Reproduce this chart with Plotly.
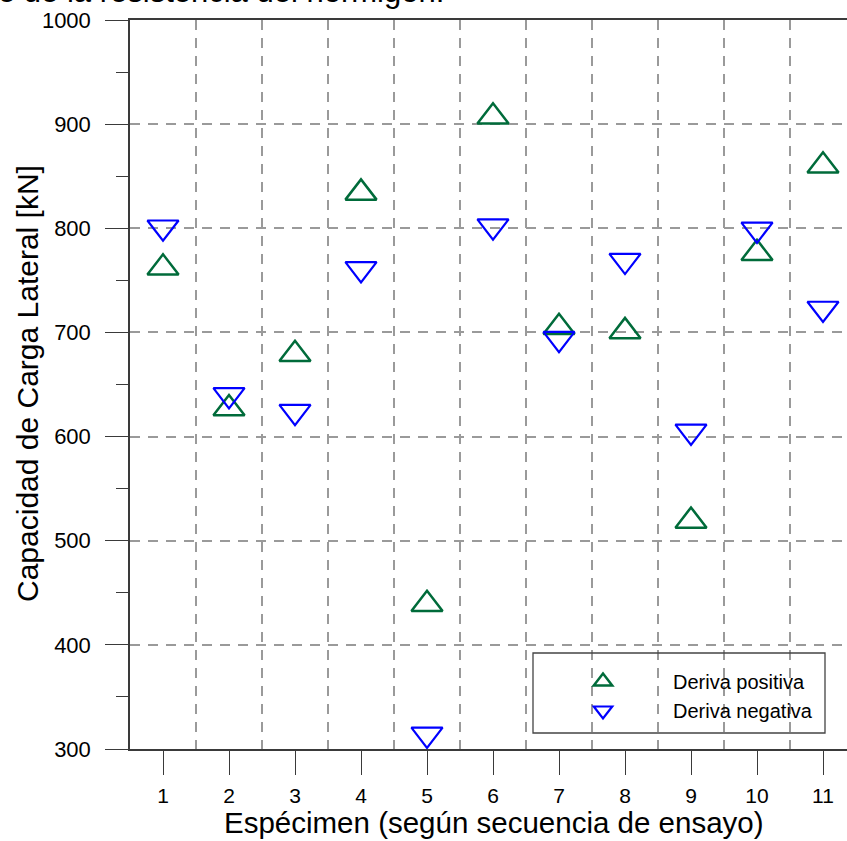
import plotly.graph_objects as go

especimen = [1, 2, 3, 4, 5, 6, 7, 8, 9, 10, 11]
deriva_positiva = [762, 627, 679, 834, 439, 907, 705, 701, 519, 776, 860]
deriva_negativa = [801, 640, 624, 761, 314, 802, 694, 769, 605, 799, 723]
y_ticks = [300, 400, 500, 600, 700, 800, 900, 1000]

FONT = "Liberation Sans, Arial, sans-serif"
GREEN = "#006B3A"
BLUE = "#0000FF"
GRID = "#9a9a9a"
AXIS = "#3a3a3a"

W, H = 847, 841
L, R, T, B = 130, 0, 20, 92
pw, ph = W - L - R, H - T - B


def px(xp):
    return (xp - L) / pw


def py(yp):
    return (H - B - yp) / ph


fig = go.Figure()
fig.add_trace(go.Scatter(
    x=especimen, y=deriva_positiva, mode="markers", name="Deriva positiva",
    marker=dict(symbol="triangle-up-open", size=27, color=GREEN,
                line=dict(color=GREEN, width=2.5)),
))
fig.add_trace(go.Scatter(
    x=especimen, y=deriva_negativa, mode="markers", name="Deriva negativa",
    marker=dict(symbol="triangle-down-open", size=27, color=BLUE,
                line=dict(color=BLUE, width=2.2)),
))

fig.update_layout(
    width=W, height=H,
    margin=dict(l=L, r=R, t=T, b=B, pad=0),
    paper_bgcolor="white", plot_bgcolor="white",
    font=dict(family=FONT, color="black"),
    showlegend=True,
    legend=dict(
        x=px(533), xanchor="left", y=py(662), yanchor="top",
        bgcolor="rgba(0,0,0,0)", borderwidth=0,
        font=dict(family=FONT, size=20, color="black"),
        itemwidth=130, tracegroupgap=0,
    ),
    xaxis=dict(
        range=[0.5, 0.5 + pw / 66.0],
        tickmode="array", tickvals=especimen,
        ticktext=[str(v) for v in especimen],
        ticks="outside", ticklen=24, tickwidth=1.3, tickcolor=AXIS,
        tickfont=dict(family=FONT, size=21, color="black"),
        ticklabelstandoff=3,
        showline=True, linecolor=AXIS, linewidth=1.5, mirror=True,
        showgrid=False, zeroline=False,
        minor=dict(tick0=0.5, dtick=1, showgrid=True, gridcolor=GRID,
                   gridwidth=1.5, griddash="10px,8px", ticks=""),
    ),
    yaxis=dict(
        range=[300, 1000],
        tickmode="array", tickvals=y_ticks,
        ticks="outside", ticklen=23, tickwidth=1.3, tickcolor=AXIS,
        tickfont=dict(family=FONT, size=22, color="black"),
        ticklabelstandoff=10,
        showline=True, linecolor=AXIS, linewidth=1.5, mirror=False,
        showgrid=True, gridcolor=GRID, gridwidth=1.5, griddash="10px,8px",
        zeroline=False,
        minor=dict(tick0=350, dtick=100, ticks="outside", ticklen=12,
                   tickwidth=1.3, tickcolor=AXIS, showgrid=False),
    ),
    shapes=[dict(type="rect", xref="paper", yref="paper",
                 x0=px(533), x1=px(825), y0=py(733), y1=py(653),
                 line=dict(color="#444444", width=1.3),
                 fillcolor="rgba(0,0,0,0)", layer="above")],
    annotations=[
        dict(text="e de la resistencia del hormigón.", xref="paper", yref="paper",
             x=px(-4), xanchor="left", y=py(11), yanchor="bottom",
             showarrow=False, font=dict(family=FONT, size=31, color="black")),
        dict(text="Capacidad de Carga Lateral [kN]", xref="paper", yref="paper",
             x=px(27), xanchor="center", y=py(384), yanchor="middle",
             textangle=-90, showarrow=False,
             font=dict(family=FONT, size=30, color="black")),
        dict(text="Espécimen (según secuencia de ensayo)", xref="paper", yref="paper",
             x=px(494), xanchor="center", y=py(823), yanchor="middle",
             showarrow=False, font=dict(family=FONT, size=29.5, color="black")),
    ],
)

fig.write_html("out.html")
